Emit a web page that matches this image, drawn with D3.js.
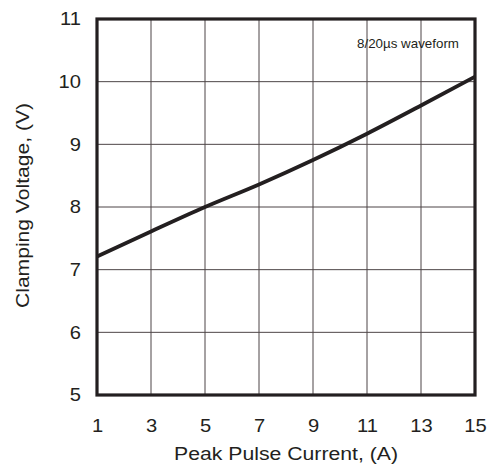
<!DOCTYPE html>
<html><head><meta charset="utf-8">
<script src="https://cdn.jsdelivr.net/npm/d3@7"></script>
<style>body{margin:0;background:#fff}svg{display:block}text{font-family:"Liberation Sans",Arial,sans-serif;fill:#231f20}</style>
</head><body>
<svg id="c" width="488" height="465"></svg>
<script>
const currentA = [1, 3, 5, 7, 9, 11, 13, 15];
const clampV = [7.21, 7.61, 8.0, 8.36, 8.75, 9.17, 9.62, 10.08];
const xTicks = [1, 3, 5, 7, 9, 11, 13, 15];
const yTicks = [5, 6, 7, 8, 9, 10, 11];

const svg = d3.select("#c");
const x = d3.scaleLinear().domain([1, 15]).range([97, 475]);
const y = d3.scaleLinear().domain([5, 11]).range([395, 19]);
const ink = "#231f20";

// grid
svg.append("g").selectAll("line").data(xTicks.slice(1, -1)).join("line")
  .attr("x1", d => x(d)).attr("x2", d => x(d)).attr("y1", y(5)).attr("y2", y(11))
  .attr("stroke", "#4d4546").attr("stroke-width", 1);
svg.append("g").selectAll("line").data(yTicks.slice(1, -1)).join("line")
  .attr("y1", d => y(d)).attr("y2", d => y(d)).attr("x1", x(1)).attr("x2", x(15))
  .attr("stroke", "#4d4546").attr("stroke-width", 1);

// curve
const line = d3.line().x((d, i) => x(currentA[i])).y(d => y(d)).curve(d3.curveMonotoneX);
svg.append("path").datum(clampV).attr("d", line).attr("fill", "none")
  .attr("stroke", ink).attr("stroke-width", 3.8);

// frame
svg.append("rect").attr("x", x(1)).attr("y", y(11)).attr("width", x(15) - x(1)).attr("height", y(5) - y(11))
  .attr("fill", "none").attr("stroke", ink).attr("stroke-width", 3.2);

// axes
const sx = 1.12;
const xa = svg.append("g").attr("transform", `translate(0,${y(5)})`)
  .call(d3.axisBottom(x).tickValues(xTicks).tickSize(0).tickPadding(24).tickFormat(d3.format("d")));
const ya = svg.append("g").attr("transform", `translate(${x(1)},0)`)
  .call(d3.axisLeft(y).tickValues(yTicks).tickSize(0).tickPadding(16 / sx).tickFormat(d3.format("d")));
[xa, ya].forEach(a => {
  a.select(".domain").remove();
  a.selectAll("text").attr("font-size", 18).attr("font-family", "Liberation Sans, Arial, sans-serif")
    .attr("fill", ink).attr("transform", `scale(${sx},1)`);
});

svg.append("text").attr("x", x(8)).attr("y", 460).attr("text-anchor", "middle")
  .attr("font-size", 17.5).attr("textLength", 224).attr("lengthAdjust", "spacingAndGlyphs")
  .text("Peak Pulse Current, (A)");
svg.append("text").attr("transform", `translate(29,205.5) rotate(-90)`).attr("text-anchor", "middle")
  .attr("font-size", 17.5).attr("textLength", 205).attr("lengthAdjust", "spacingAndGlyphs")
  .text("Clamping Voltage, (V)");
svg.append("text").attr("x", 408).attr("y", 48).attr("text-anchor", "middle")
  .attr("font-size", 13).attr("textLength", 102).attr("lengthAdjust", "spacingAndGlyphs")
  .text("8/20µs waveform");
</script>
</body></html>
